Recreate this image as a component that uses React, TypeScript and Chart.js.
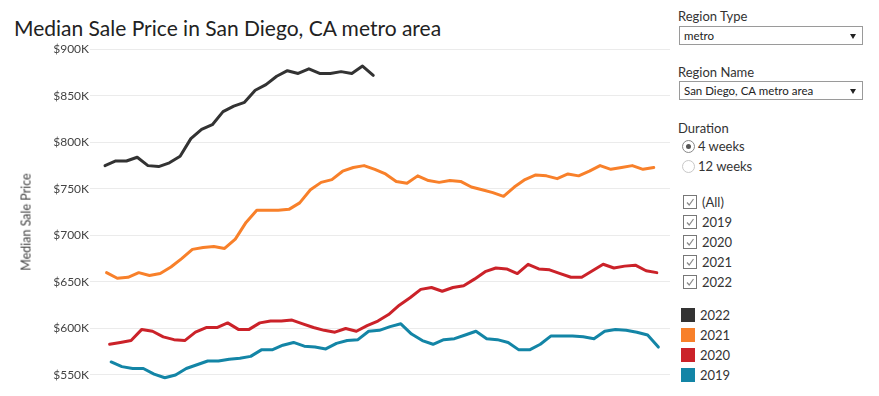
import React, { useEffect, useRef } from "react";
import { Chart, registerables } from "chart.js";
Chart.register(...registerables);

const FONT = "Lato, 'Open Sans', sans-serif";

const years = ["2022", "2021", "2020", "2019"];
const colors = ["#333333", "#F8802A", "#CB2229", "#1385A6"];
// day of January of each year's first weekly data point
const firstWeekDay = [2, 3, 5, 6];

// Median sale price, thousands of dollars, weekly
const price2022 = [775, 780, 780, 784, 775, 774, 778, 785, 804, 814, 819, 833, 839, 843, 856, 862, 871, 877, 874, 879, 874, 874, 876, 874, 882, 872];
const price2021 = [660, 654, 655, 660, 657, 659, 666, 675, 685, 687, 688, 686, 696, 714, 727, 727, 727, 728, 735, 749, 757, 760, 769, 773, 775, 771, 766, 758, 756, 764, 759, 757, 759, 758, 752, 749, 746, 742, 752, 760, 765, 764, 761, 766, 764, 769, 775, 771, 773, 775, 771, 773];
const price2020 = [583, 585, 587, 599, 597, 591, 588, 587, 596, 601, 601, 606, 599, 599, 606, 608, 608, 609, 605, 601, 598, 596, 600, 597, 603, 608, 615, 625, 633, 642, 644, 640, 644, 646, 653, 661, 665, 664, 659, 669, 664, 663, 659, 655, 655, 662, 669, 665, 667, 668, 662, 660];
const price2019 = [564, 559, 557, 557, 551, 547, 550, 557, 561, 565, 565, 567, 568, 570, 577, 577, 582, 585, 581, 580, 578, 584, 587, 588, 597, 598, 602, 605, 594, 587, 583, 588, 589, 593, 597, 589, 588, 585, 577, 577, 583, 592, 592, 592, 591, 589, 597, 599, 598, 596, 593, 580];
const seriesValues = [price2022, price2021, price2020, price2019];

const yTicks = [550, 600, 650, 700, 750, 800, 850, 900];
const yMin = 545;
const yMax = 905;
const xMin = -7.8;
const xMax = 370.6;

const regionTypes = ["metro"];
const regionNames = ["San Diego, CA metro area"];
const durations = ["4 weeks", "12 weeks"];
const filterItems = ["(All)", "2019", "2020", "2021", "2022"];

function dayOfYear(year: number, day: number) {
  return (Date.UTC(year, 0, day) - Date.UTC(year, 0, 1)) / 864e5 + 1;
}

const textColor = "#333333";

function Dropdown({ top, text }: { top: number; text: string }) {
  return (
    <div style={{ position: "absolute", left: 679, top, width: 184, height: 19, boxSizing: "border-box", border: "1px solid #9a9a9a", background: "#fff" }}>
      <div style={{ position: "absolute", left: 4, top: 0, lineHeight: "17px", fontSize: 11.5, color: "#222", whiteSpace: "nowrap" }}>{text}</div>
      <div style={{ position: "absolute", left: 170, top: 7, width: 0, height: 0, borderLeft: "3.5px solid transparent", borderRight: "3.5px solid transparent", borderTop: "5px solid #222" }} />
    </div>
  );
}

export default function App() {
  const ref = useRef<HTMLCanvasElement>(null);
  useEffect(() => {
    if (!ref.current) return;
    const datasets = years.map((y, i) => ({
      label: y,
      data: seriesValues[i].map((v, k) => ({ x: dayOfYear(Number(y), firstWeekDay[i] + 7 * k), y: v })),
      borderColor: colors[i],
      backgroundColor: colors[i],
      borderWidth: 3,
      pointRadius: 0,
      tension: 0,
      borderCapStyle: "round" as const,
      borderJoinStyle: "round" as const,
    }));
    const chart = new Chart(ref.current, {
      type: "line",
      data: { datasets },
      options: {
        animation: false,
        responsive: false,
        layout: { padding: { top: 44.65, bottom: 16.35, left: 0, right: 2 } },
        plugins: { legend: { display: false }, tooltip: { enabled: false }, title: { display: false } },
        scales: {
          x: { type: "linear", min: xMin, max: xMax, display: false },
          y: {
            type: "linear",
            min: yMin,
            max: yMax,
            afterFit: (s: any) => { s.width = 90; },
            afterBuildTicks: (s: any) => { s.ticks = yTicks.map((v) => ({ value: v })); },
            border: { display: false },
            grid: { color: "#ebebeb", lineWidth: 1, drawTicks: false },
            ticks: {
              padding: 1,
              color: "#444",
              font: { family: FONT, size: 12 },
              callback: (v: any) => `$${v}K`,
            },
          },
        },
      },
    });
    return () => chart.destroy();
  }, []);

  return (
    <div style={{ position: "fixed", left: 0, top: 0, width: 879, height: 396, background: "#fff", fontFamily: FONT, color: textColor, overflow: "hidden" }}>
      <div style={{ position: "absolute", left: 14, top: 15, fontSize: 21, lineHeight: "26px", whiteSpace: "nowrap", color: "#222" }}>
        Median Sale Price in San Diego, CA metro area
      </div>
      <canvas ref={ref} width={672} height={396} style={{ position: "absolute", left: 0, top: 0, width: 672, height: 396 }} />
      <div style={{ position: "absolute", left: 26, top: 222, width: 0, height: 0 }}>
        <div style={{ position: "absolute", left: 0, top: 0, transform: "translate(-50%, -50%) rotate(-90deg)", whiteSpace: "nowrap", fontSize: 12.5, color: "#444" }}>
          Median Sale Price
        </div>
      </div>

      <div style={{ position: "absolute", left: 678, top: 8, fontSize: 13, lineHeight: "16px" }}>Region Type</div>
      <Dropdown top={26} text={regionTypes[0]} />
      <div style={{ position: "absolute", left: 678, top: 64, fontSize: 13, lineHeight: "16px" }}>Region Name</div>
      <Dropdown top={81} text={regionNames[0]} />
      <div style={{ position: "absolute", left: 678, top: 120, fontSize: 13, lineHeight: "16px" }}>Duration</div>
      {durations.map((d, i) => (
        <div key={d} style={{ position: "absolute", left: 682, top: 140 + i * 20, height: 14 }}>
          <div style={{ position: "absolute", left: 0, top: 0, width: 13, height: 13, boxSizing: "border-box", borderRadius: "50%", border: i === 0 ? "1px solid #888" : "1px solid #c8c8c8", background: "#fff" }}>
            {i === 0 && <div style={{ position: "absolute", left: 3, top: 3, width: 5, height: 5, borderRadius: "50%", background: "#555" }} />}
          </div>
          <div style={{ position: "absolute", left: 16, top: -2, fontSize: 13, lineHeight: "17px", whiteSpace: "nowrap" }}>{d}</div>
        </div>
      ))}
      {filterItems.map((f, i) => (
        <div key={f} style={{ position: "absolute", left: 683, top: 195 + i * 20, height: 14 }}>
          <div style={{ position: "absolute", left: 0, top: 0, width: 14, height: 14, boxSizing: "border-box", border: "1px solid #777", background: "#fff" }}>
            <svg width={12} height={12} style={{ position: "absolute", left: 0, top: 0 }}>
              <polyline points="3,6.5 5.2,9 9.5,3" fill="none" stroke="#888" strokeWidth={1.2} />
            </svg>
          </div>
          <div style={{ position: "absolute", left: 19, top: -1.5, fontSize: 13, lineHeight: "17px", whiteSpace: "nowrap" }}>{f}</div>
        </div>
      ))}
      {years.map((y, i) => (
        <div key={y} style={{ position: "absolute", left: 681, top: 308 + i * 20, height: 14 }}>
          <div style={{ position: "absolute", left: 0, top: 0, width: 14, height: 14, background: colors[i] }} />
          <div style={{ position: "absolute", left: 19, top: -1.5, fontSize: 13, lineHeight: "17px", whiteSpace: "nowrap" }}>{y}</div>
        </div>
      ))}
    </div>
  );
}
